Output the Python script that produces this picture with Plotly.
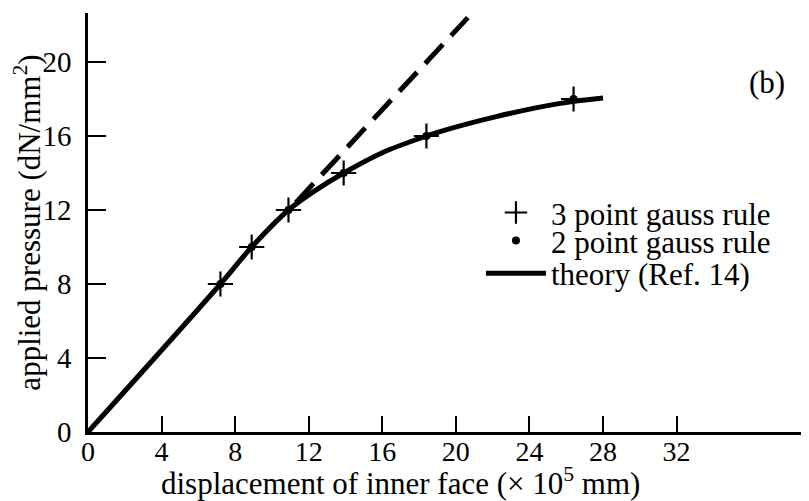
import plotly.graph_objects as go

# points (displacement x1e5 mm, pressure dN/mm2)
gauss_x = [7.2, 8.9, 10.9, 13.9, 18.4, 26.4]
gauss_y = [8, 10, 12, 14, 16, 18]

theory_x = [0, 7.2, 8.9, 10.9, 12.2, 13.9, 16.0, 18.4, 19.0, 22.2, 25.6, 28.0]
theory_y = [0, 8.0, 10.0, 12.0, 12.95, 14.0, 15.1, 16.0, 16.2, 17.05, 17.75, 18.05]

elastic_x = [11.3, 20.65]
elastic_y = [12.4, 22.4]

x_ticks = [0, 4, 8, 12, 16, 20, 24, 28, 32]
y_ticks = [0, 4, 8, 12, 16, 20]

serif = "Liberation Serif"
black = "black"

fig = go.Figure()
fig.add_trace(go.Scatter(x=theory_x, y=theory_y, mode="lines", line=dict(color=black, width=5),
                         line_shape="spline", name="theory (Ref. 14)", legend="legend3"))
fig.add_trace(go.Scatter(x=elastic_x, y=elastic_y, mode="lines", line=dict(color=black, width=5, dash="26px,12px"),
                         showlegend=False))
fig.add_trace(go.Scatter(x=gauss_x, y=gauss_y, mode="markers", name="3 point gauss rule", legend="legend",
                         marker=dict(symbol="cross-thin", size=18, line=dict(color=black, width=2.2))))
fig.add_trace(go.Scatter(x=gauss_x, y=gauss_y, mode="markers", name="2 point gauss rule", legend="legend2",
                         marker=dict(symbol="circle", size=8, color=black)))

fig.add_annotation(text="(b)", x=0.942, y=0.833, xref="paper", yref="paper", showarrow=False,
                   xanchor="center", yanchor="middle",
                   font=dict(family=serif, size=31, color=black))
# x title sits left of centre in the original, so it is placed as an annotation
fig.add_annotation(text="displacement of inner face (× 10<sup>5</sup> mm)", x=0.433, y=-0.117,
                   xref="paper", yref="paper", showarrow=False, xanchor="center", yanchor="middle",
                   font=dict(family=serif, size=31, color=black))

fig.update_xaxes(range=[0, 39.2], tickvals=x_ticks, ticks="inside", ticklen=16, tickwidth=1.5,
                 tickcolor=black, showline=True, linecolor=black, linewidth=2.5, showgrid=False,
                 zeroline=False, automargin=False, ticklabelstandoff=-7,
                 tickfont=dict(family=serif, size=28, color=black))
fig.update_yaxes(range=[0, 22.65], tickvals=y_ticks, ticks="inside", ticklen=18, tickwidth=1.5,
                 tickcolor=black, showline=True, linecolor=black, linewidth=2.5, showgrid=False,
                 zeroline=False, automargin=False, ticklabelstandoff=8,
                 tickfont=dict(family=serif, size=29, color=black),
                 title=dict(text="applied pressure (dN/mm<sup>2</sup>)", standoff=2,
                            font=dict(family=serif, size=31, color=black)))

legend_style = dict(x=0.545, xanchor="left", yanchor="middle", bgcolor="rgba(0,0,0,0)",
                    font=dict(family=serif, size=31, color=black), itemwidth=60)

# the page body has an 8px margin, so the figure is sized to the visible window
fig.update_layout(width=801, height=493, margin=dict(l=80, r=0, t=5, b=69),
                  plot_bgcolor="white", paper_bgcolor="white",
                  legend=dict(y=0.523, **legend_style),
                  legend2=dict(y=0.456, **legend_style),
                  legend3=dict(y=0.378, **legend_style))

fig.write_html("out.html")
